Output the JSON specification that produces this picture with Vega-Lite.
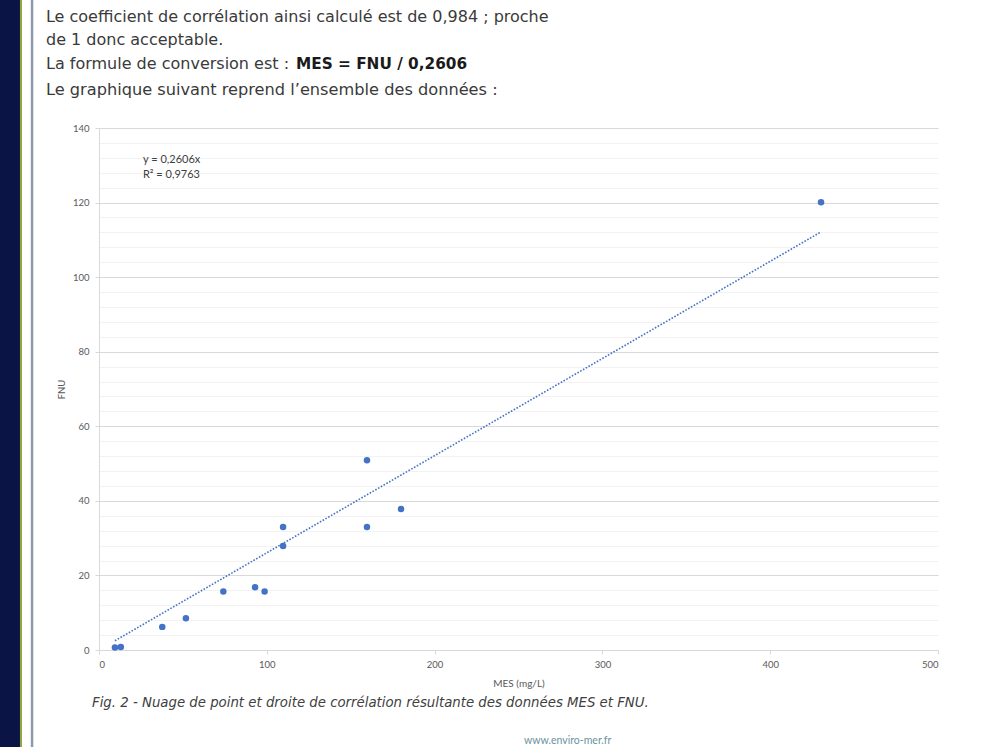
{
  "$schema": "https://vega.github.io/schema/vega-lite/v6.json",
  "width": 839,
  "height": 522,
  "autosize": {"type": "none"},
  "padding": {"left": 99, "top": 128, "right": 60, "bottom": 97},
  "background": "white",
  "config": {"view": {"stroke": null}, "font": "Lato"},
  "datasets": {
    "points": [
      {"MES": 9.5, "FNU": 0.7},
      {"MES": 13, "FNU": 0.8},
      {"MES": 37.7, "FNU": 6.2},
      {"MES": 51.8, "FNU": 8.5},
      {"MES": 74.1, "FNU": 15.7},
      {"MES": 93, "FNU": 16.8},
      {"MES": 98.7, "FNU": 15.7},
      {"MES": 109.7, "FNU": 33},
      {"MES": 109.7, "FNU": 27.9},
      {"MES": 159.7, "FNU": 50.9},
      {"MES": 159.7, "FNU": 33},
      {"MES": 180, "FNU": 37.8},
      {"MES": 430.3, "FNU": 120.1}
    ],
    "trend": [
      {"MES": 9.5, "FNU": 2.48},
      {"MES": 430.3, "FNU": 112.14}
    ],
    "one": [{}]
  },
  "layer": [
    {
      "data": {"name": "one"},
      "mark": {"type": "rect", "color": "#0b1545", "clip": false},
      "encoding": {
        "x": {"datum": -60, "type": "quantitative", "scale": {"domain": [0, 500], "nice": false}},
        "x2": {"datum": -47.08},
        "y": {"datum": 180, "type": "quantitative", "scale": {"domain": [0, 140], "nice": false}},
        "y2": {"datum": -30}
      }
    },
    {
      "data": {"name": "one"},
      "mark": {"type": "rule", "color": "#8fa53e", "strokeWidth": 2, "clip": false},
      "encoding": {
        "x": {"datum": -46.5, "type": "quantitative"},
        "y": {"datum": 180, "type": "quantitative"},
        "y2": {"datum": -30}
      }
    },
    {
      "data": {"name": "one"},
      "mark": {"type": "rule", "color": "#8d9aab", "strokeWidth": 2.5, "clip": false},
      "encoding": {
        "x": {"datum": -39.9, "type": "quantitative"},
        "y": {"datum": 180, "type": "quantitative"},
        "y2": {"datum": -30}
      }
    },
    {
      "data": {"name": "trend"},
      "mark": {"type": "line", "color": "#4472c4", "strokeWidth": 1.6, "strokeDash": [1.6, 1.6]},
      "encoding": {
        "x": {"field": "MES", "type": "quantitative"},
        "y": {"field": "FNU", "type": "quantitative"}
      }
    },
    {
      "data": {"name": "points"},
      "mark": {"type": "circle", "color": "#4472c4", "size": 42, "opacity": 1},
      "encoding": {
        "x": {
          "field": "MES",
          "type": "quantitative",
          "axis": {
            "title": "MES (mg/L)",
            "values": [0, 100, 200, 300, 400, 500],
            "tickCount": 10,
            "grid": false,
            "tickSize": 4,
            "tickColor": "#d9d9d9",
            "domainColor": "#d9d9d9",
            "labelColor": "#595959",
            "labelFontSize": 9.5,
            "labelPadding": 5,
            "titleFontWeight": "normal",
            "titleFontSize": 10,
            "titleColor": "#595959",
            "titlePadding": 10
          }
        },
        "y": {
          "field": "FNU",
          "type": "quantitative",
          "axis": {
            "title": "FNU",
            "values": [0,4,8,12,16,20,24,28,32,36,40,44,48,52,56,60,64,68,72,76,80,84,88,92,96,100,104,108,112,116,120,124,128,132,136,140],
            "tickCount": 100,
            "labelExpr": "datum.value % 20 === 0 ? datum.label : ''",
            "labelOverlap": false,
            "grid": true,
            "gridWidth": 1,
            "gridColor": {"condition": {"test": "datum.value % 20 === 0", "value": "#d9d9d9"}, "value": "#f2f2f2"},
            "tickColor": {"condition": {"test": "datum.value % 20 === 0", "value": "#d9d9d9"}, "value": "transparent"},
            "tickSize": 4,
            "domainColor": "#d9d9d9",
            "labelColor": "#595959",
            "labelFontSize": 9.5,
            "labelPadding": 6,
            "titleFontWeight": "normal",
            "titleFontSize": 9.5,
            "titleColor": "#595959",
            "titlePadding": 6
          }
        }
      }
    },
    {
      "data": {"name": "one"},
      "mark": {"type": "text", "text": "y = 0,2606x", "align": "left", "baseline": "middle", "font": "Lato", "fontSize": 11, "color": "#404040"},
      "encoding": {"x": {"datum": 26.2, "type": "quantitative"}, "y": {"datum": 131.4, "type": "quantitative"}}
    },
    {
      "data": {"name": "one"},
      "mark": {"type": "text", "text": "R² = 0,9763", "align": "left", "baseline": "middle", "font": "Lato", "fontSize": 11, "color": "#404040"},
      "encoding": {"x": {"datum": 26.2, "type": "quantitative"}, "y": {"datum": 127.4, "type": "quantitative"}}
    },
    {
      "data": {"name": "one"},
      "mark": {"type": "text", "text": "Le coefficient de corrélation ainsi calculé est de 0,984 ; proche", "align": "left", "baseline": "middle", "font": "DejaVu Sans", "fontSize": 16, "color": "#3a3a3a", "clip": false},
      "encoding": {"x": {"datum": -31.6, "type": "quantitative"}, "y": {"datum": 169.77, "type": "quantitative"}}
    },
    {
      "data": {"name": "one"},
      "mark": {"type": "text", "text": "de 1 donc acceptable.", "align": "left", "baseline": "middle", "font": "DejaVu Sans", "fontSize": 16, "color": "#3a3a3a", "clip": false},
      "encoding": {"x": {"datum": -31.6, "type": "quantitative"}, "y": {"datum": 163.6, "type": "quantitative"}}
    },
    {
      "data": {"name": "one"},
      "mark": {"type": "text", "text": "La formule de conversion est :", "align": "left", "baseline": "middle", "font": "DejaVu Sans", "fontSize": 16, "color": "#3a3a3a", "clip": false},
      "encoding": {"x": {"datum": -31.6, "type": "quantitative"}, "y": {"datum": 157.2, "type": "quantitative"}}
    },
    {
      "data": {"name": "one"},
      "mark": {"type": "text", "text": "MES = FNU / 0,2606", "align": "left", "baseline": "middle", "font": "DejaVu Sans", "fontSize": 15.3, "fontWeight": "bold", "color": "#1a1a1a", "clip": false},
      "encoding": {"x": {"datum": 117.4, "type": "quantitative"}, "y": {"datum": 157.2, "type": "quantitative"}}
    },
    {
      "data": {"name": "one"},
      "mark": {"type": "text", "text": "Le graphique suivant reprend l’ensemble des données :", "align": "left", "baseline": "middle", "font": "DejaVu Sans", "fontSize": 16.2, "color": "#3a3a3a", "clip": false},
      "encoding": {"x": {"datum": -31.6, "type": "quantitative"}, "y": {"datum": 150.2, "type": "quantitative"}}
    },
    {
      "data": {"name": "one"},
      "mark": {"type": "text", "text": "Fig. 2 - Nuage de point et droite de corrélation résultante des données MES et FNU.", "align": "left", "baseline": "middle", "font": "DejaVu Sans", "fontSize": 13.3, "fontStyle": "italic", "color": "#404040", "clip": false},
      "encoding": {"x": {"datum": -4.17, "type": "quantitative"}, "y": {"datum": -14.2, "type": "quantitative"}}
    },
    {
      "data": {"name": "one"},
      "mark": {"type": "text", "text": "www.enviro-mer.fr", "align": "left", "baseline": "middle", "font": "Lato", "fontSize": 10.5, "color": "#6b939e", "clip": false},
      "encoding": {"x": {"datum": 253.3, "type": "quantitative"}, "y": {"datum": -24.4, "type": "quantitative"}}
    }
  ]
}
